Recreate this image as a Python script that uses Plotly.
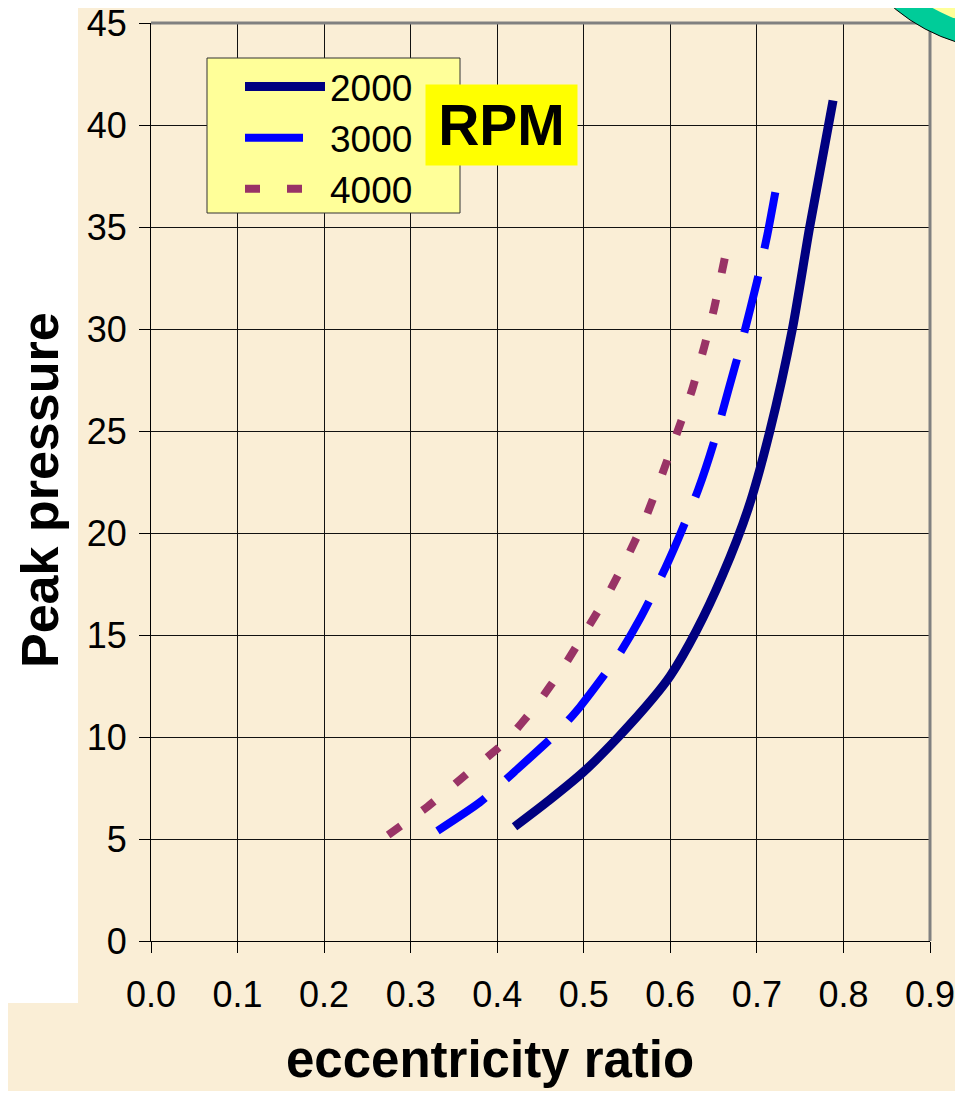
import plotly.graph_objects as go

# ---- data ----
ecc_2000 = [0.420, 0.460, 0.500, 0.540, 0.580, 0.600, 0.630, 0.660, 0.690, 0.715, 0.741, 0.761, 0.788]
p_2000 = [5.6, 6.9, 8.3, 10.0, 11.9, 13.0, 15.2, 17.9, 21.2, 25.0, 30.0, 35.0, 41.2]

ecc_3000 = [0.331, 0.380, 0.420, 0.470, 0.496, 0.540, 0.565, 0.590, 0.610, 0.632, 0.650, 0.667, 0.684, 0.700, 0.712, 0.723]
p_3000 = [5.4, 6.8, 8.3, 10.25, 11.5, 14.0, 15.8, 17.9, 19.8, 22.1, 24.4, 27.0, 29.6, 32.3, 34.6, 37.1]

ecc_4000 = [0.274, 0.320, 0.368, 0.409, 0.446, 0.476, 0.501, 0.528, 0.550, 0.572, 0.589, 0.606, 0.625, 0.639, 0.650, 0.664]
p_4000 = [5.2, 6.6, 8.3, 9.75, 11.6, 13.4, 15.1, 17.0, 18.8, 20.8, 22.7, 24.7, 27.0, 29.1, 30.9, 33.7]

series_names = ["2000", "3000", "4000"]
x_ticks = [0.0, 0.1, 0.2, 0.3, 0.4, 0.5, 0.6, 0.7, 0.8, 0.9]
y_ticks = [0, 5, 10, 15, 20, 25, 30, 35, 40, 45]

FONT = "Liberation Sans, Arial, sans-serif"
BG = "#FAEED6"

# the page body adds an 8px margin; the figure is sized to fit the window
OFF = 8
W, H = 947, 1083
ML, MR, MT, MB = 143, 25, 15, 150
PW, PH = W - ML - MR, H - MT - MB


def px(x):
    return (x - OFF - ML) / PW


def py(y):
    return (H - MB - (y - OFF)) / PH


fig = go.Figure()
fig.add_trace(go.Scatter(x=ecc_2000, y=p_2000, name=series_names[0], mode="lines",
                         line=dict(color="#000080", width=9, shape="spline", smoothing=0.7)))
fig.add_trace(go.Scatter(x=ecc_3000, y=p_3000, name=series_names[1], mode="lines",
                         line=dict(color="#0000FF", width=8, shape="spline", smoothing=0.6,
                                   dash="58px,28px")))
fig.add_trace(go.Scatter(x=ecc_4000, y=p_4000, name=series_names[2], mode="lines",
                         line=dict(color="#993366", width=8, shape="spline", smoothing=0.5,
                                   dash="15px,27px")))

shapes = [
    # white strip at left
    dict(type="rect", xref="paper", yref="paper", x0=px(-20), x1=px(78), y0=py(1003), y1=py(-20),
         fillcolor="white", line=dict(width=0), layer="below"),
    # top / right grey plot border
    dict(type="line", xref="paper", yref="paper", x0=0, x1=1, y0=1, y1=1,
         line=dict(color="#808080", width=3)),
    dict(type="line", xref="paper", yref="paper", x0=1, x1=1, y0=0, y1=1,
         line=dict(color="#808080", width=3)),
    # legend box
    dict(type="rect", xref="paper", yref="paper", x0=px(207), x1=px(460), y0=py(213), y1=py(58),
         fillcolor="#FFFF99", line=dict(color="#333333", width=1), layer="above"),
    # decorative ring in top-right corner
    dict(type="circle", xref="paper", yref="paper", x0=px(1009 - 178), x1=px(1009 + 178),
         y0=py(-128 + 178), y1=py(-128 - 178), fillcolor="#00CC99",
         line=dict(color="black", width=1), layer="above"),
    dict(type="circle", xref="paper", yref="paper", x0=px(1009 - 156), x1=px(1009 + 156),
         y0=py(-128 + 156), y1=py(-128 - 156), fillcolor="#FFFF99",
         line=dict(width=0), layer="above"),
]

annotations = [
    dict(text="<b>eccentricity ratio</b>", xref="paper", yref="paper", x=px(490), y=py(1059),
         xanchor="center", yanchor="middle", showarrow=False, font=dict(size=51, color="black", family=FONT)),
    dict(text="<b>Peak pressure</b>", xref="paper", yref="paper", x=px(40), y=py(490),
         xanchor="center", yanchor="middle", textangle=-90, showarrow=False,
         font=dict(size=52, color="black", family=FONT)),
    dict(text="<b>RPM</b>", xref="paper", yref="paper", x=px(501), y=py(125),
         xanchor="center", yanchor="middle", showarrow=False, bgcolor="#FFFF00",
         width=147, height=76, borderpad=2, font=dict(size=57, color="black", family=FONT)),
]

fig.update_layout(
    width=W, height=H,
    margin=dict(l=ML, r=MR, t=MT, b=MB, autoexpand=False),
    paper_bgcolor=BG, plot_bgcolor=BG,
    font=dict(family=FONT, size=36, color="black"),
    showlegend=True,
    legend=dict(x=px(240), y=py(56), xanchor="left", yanchor="top",
                bgcolor="rgba(0,0,0,0)", borderwidth=0,
                font=dict(size=37, family=FONT, color="black"), itemwidth=80,
                tracegroupgap=0),
    shapes=shapes,
    annotations=annotations,
)
fig.update_xaxes(range=[0, 0.9], tickvals=x_ticks, ticktext=[f"{v:.1f}" for v in x_ticks],
                 showgrid=True, gridcolor="#111111", gridwidth=1, zeroline=False,
                 showline=True, linecolor="black", linewidth=1, automargin=False,
                 ticklabeloverflow="allow",
                 ticks="outside", ticklen=11, tickcolor="black",
                 tickfont=dict(size=36, family=FONT, color="black"), ticklabelstandoff=11)
fig.update_yaxes(range=[0, 45], tickvals=y_ticks,
                 showgrid=True, gridcolor="#111111", gridwidth=1, zeroline=False,
                 showline=True, linecolor="black", linewidth=1, automargin=False,
                 ticklabeloverflow="allow",
                 ticks="outside", ticklen=11, tickcolor="black",
                 tickfont=dict(size=36, family=FONT, color="black"), ticklabelstandoff=5)

fig.write_html("out.html")
